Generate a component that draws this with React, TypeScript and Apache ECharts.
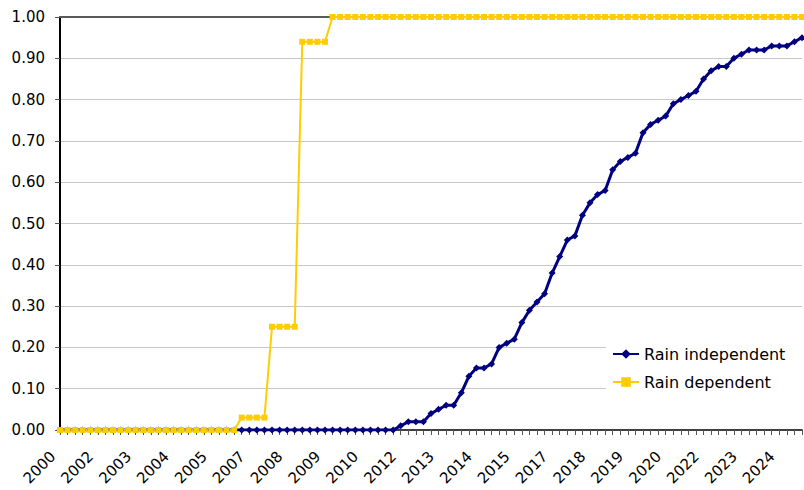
import React, { useEffect, useRef } from "react";
import * as echarts from "echarts";

// Year tick labels shown every 5th quarter
const xLabels = [
  "2000", "2002", "2003", "2004", "2005", "2007", "2008", "2009", "2010", "2012",
  "2013", "2014", "2015", "2017", "2018", "2019", "2020", "2022", "2023", "2024",
];

// Quarterly categories (99 points)
const categories = Array.from({ length: 99 }, (_, i) => `${2000 + Math.floor(i / 4)} Q${(i % 4) + 1}`);

const rainIndependent = [
  0, 0, 0, 0, 0, 0, 0, 0, 0, 0,
  0, 0, 0, 0, 0, 0, 0, 0, 0, 0,
  0, 0, 0, 0, 0, 0, 0, 0, 0, 0,
  0, 0, 0, 0, 0, 0, 0, 0, 0, 0,
  0, 0, 0, 0, 0, 0.01, 0.02, 0.02, 0.02, 0.04,
  0.05, 0.06, 0.06, 0.09, 0.13, 0.15, 0.15, 0.16, 0.20, 0.21,
  0.22, 0.26, 0.29, 0.31, 0.33, 0.38, 0.42, 0.46, 0.47, 0.52,
  0.55, 0.57, 0.58, 0.63, 0.65, 0.66, 0.67, 0.72, 0.74, 0.75,
  0.76, 0.79, 0.80, 0.81, 0.82, 0.85, 0.87, 0.88, 0.88, 0.90,
  0.91, 0.92, 0.92, 0.92, 0.93, 0.93, 0.93, 0.94, 0.95,
];

const rainDependent = [
  0, 0, 0, 0, 0, 0, 0, 0, 0, 0,
  0, 0, 0, 0, 0, 0, 0, 0, 0, 0,
  0, 0, 0, 0, 0.03, 0.03, 0.03, 0.03, 0.25, 0.25,
  0.25, 0.25, 0.94, 0.94, 0.94, 0.94, 1, 1, 1, 1,
  1, 1, 1, 1, 1, 1, 1, 1, 1, 1,
  1, 1, 1, 1, 1, 1, 1, 1, 1, 1,
  1, 1, 1, 1, 1, 1, 1, 1, 1, 1,
  1, 1, 1, 1, 1, 1, 1, 1, 1, 1,
  1, 1, 1, 1, 1, 1, 1, 1, 1, 1,
  1, 1, 1, 1, 1, 1, 1, 1, 1,
];

const FONT = "DejaVu Sans";

export default function App() {
  const ref = useRef<HTMLDivElement>(null);
  useEffect(() => {
    if (!ref.current) return;
    const chart = echarts.init(ref.current, null, { renderer: "svg" });
    chart.setOption({
      animation: false,
      backgroundColor: "#ffffff",
      textStyle: { fontFamily: FONT },
      grid: { left: 60, right: 2, top: 17, bottom: 60, containLabel: false },
      legend: {
        orient: "vertical",
        left: 606,
        top: 340,
        padding: [6, 20, 6, 6],
        backgroundColor: "#ffffff",
        itemWidth: 26,
        itemHeight: 12,
        itemGap: 12,
        data: ["Rain independent", "Rain dependent"],
        textStyle: { fontFamily: FONT, fontSize: 16, color: "#000" },
      },
      xAxis: [
        {
          type: "category",
          data: categories,
          boundaryGap: false,
          axisLine: { lineStyle: { color: "#404040", width: 2 } },
          axisTick: { show: true, interval: 0, length: 5, lineStyle: { color: "#555" } },
          axisLabel: {
            interval: 4,
            rotate: 45,
            margin: 17,
            padding: [0, 10, 0, 0],
            fontSize: 15,
            fontFamily: FONT,
            color: "#000",
            formatter: (_v: string, idx: number) => xLabels[Math.round(idx / 5)] ?? "",
          },
          splitLine: { show: false },
        },
        {
          type: "category",
          data: categories,
          boundaryGap: false,
          position: "top",
          axisLine: { lineStyle: { color: "#5a5a5a", width: 2 } },
          axisTick: { show: false },
          axisLabel: { show: false },
        },
      ],
      yAxis: {
        type: "value",
        min: 0,
        max: 1,
        interval: 0.1,
        axisLine: { show: true, lineStyle: { color: "#000", width: 2 } },
        axisTick: { show: true, length: 5, lineStyle: { color: "#555" } },
        axisLabel: {
          margin: 15,
          fontSize: 15,
          fontFamily: FONT,
          color: "#000",
          formatter: (v: number) => v.toFixed(2),
        },
        splitLine: { show: true, lineStyle: { color: "#c8c8c8", width: 1 } },
      },
      series: [
        {
          name: "Rain independent",
          type: "line",
          data: rainIndependent,
          symbol: "diamond",
          symbolSize: 7,
          showAllSymbol: true,
          lineStyle: { color: "#000080", width: 3 },
          itemStyle: { color: "#000080" },
        },
        {
          name: "Rain dependent",
          type: "line",
          data: rainDependent,
          symbol: "rect",
          symbolSize: 6,
          showAllSymbol: true,
          lineStyle: { color: "#FFCC00", width: 2 },
          itemStyle: { color: "#FFCC00" },
        },
      ],
    });
    return () => chart.dispose();
  }, []);
  return (
    <div
      ref={ref}
      style={{ position: "absolute", left: 0, top: 0, width: 804, height: 490 }}
    />
  );
}
